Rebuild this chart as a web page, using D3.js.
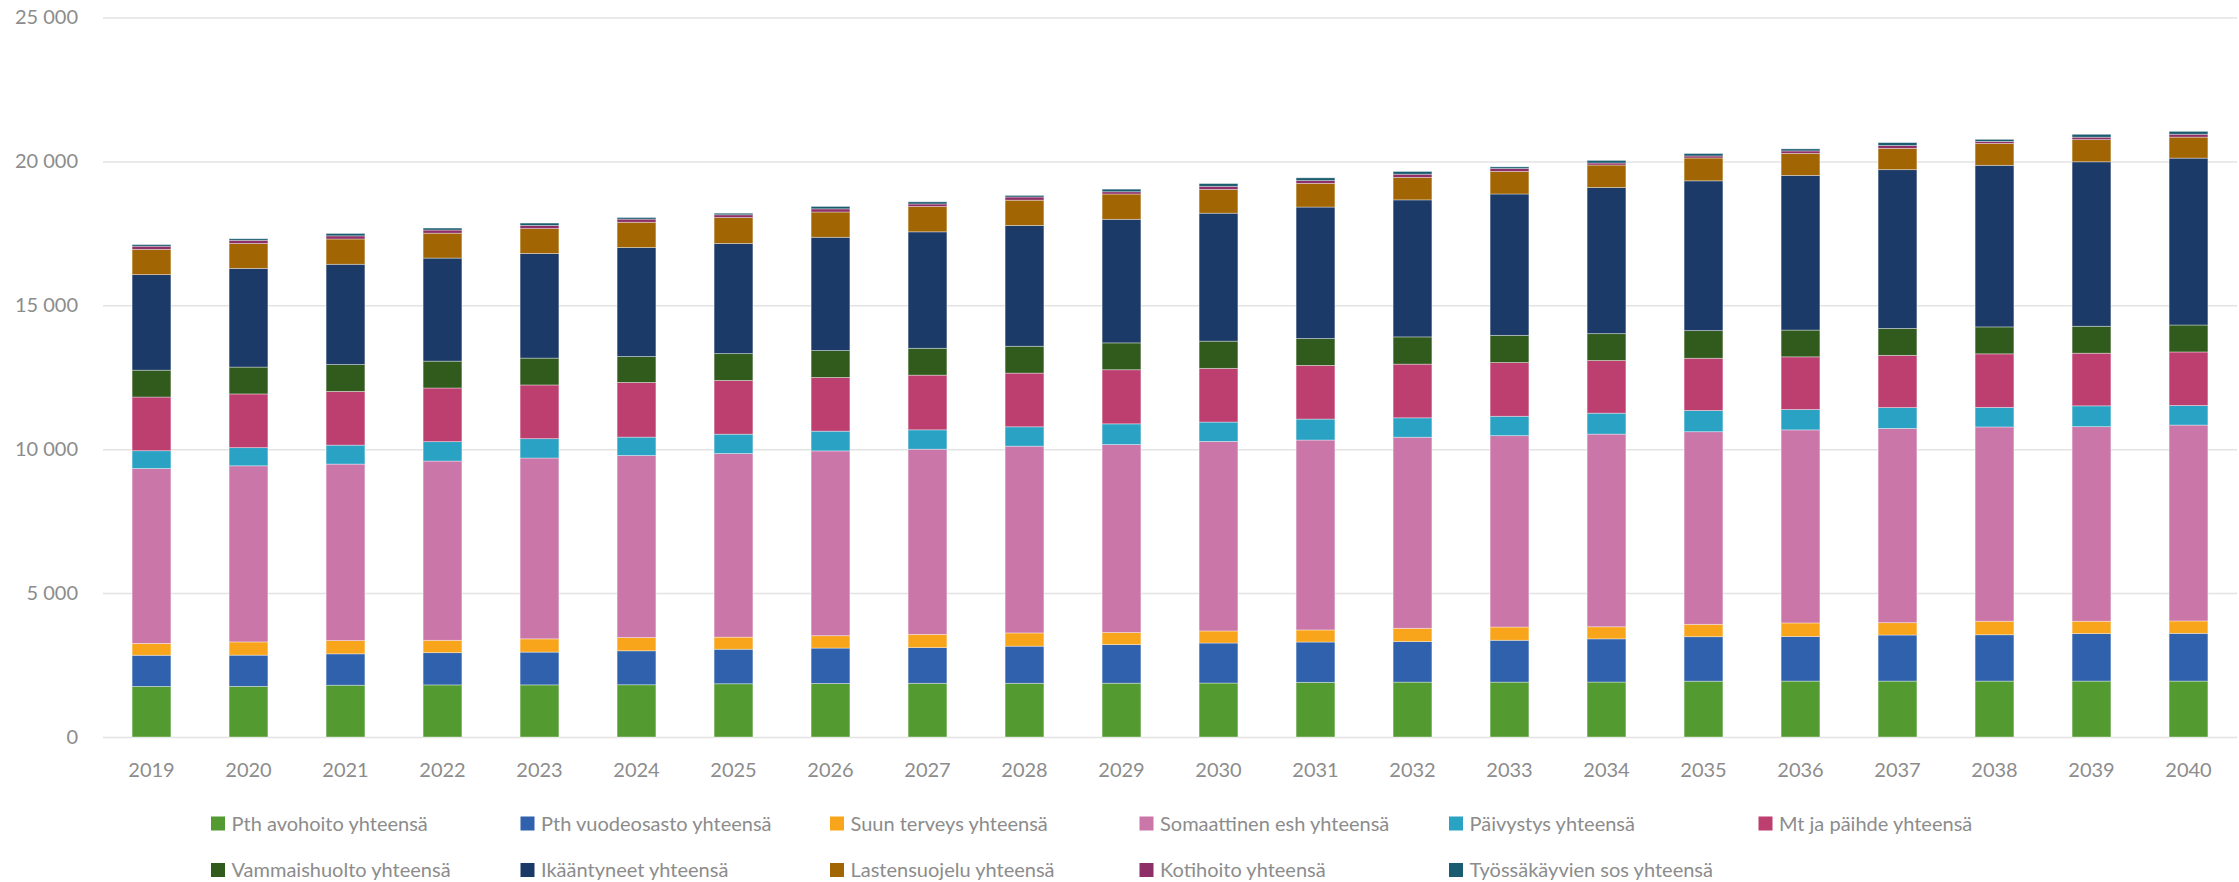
<!DOCTYPE html>
<html>
<head>
<meta charset="utf-8">
<script src="https://cdn.jsdelivr.net/npm/d3@7"></script>
<style>
  body { margin: 0; background: #fff; }
  svg text { font-family: Lato, "Open Sans", sans-serif; fill: #8c8c8c; }
</style>
</head>
<body>
<svg id="chart" width="2239" height="882"></svg>
<script>
const years = [2019, 2020, 2021, 2022, 2023, 2024, 2025, 2026, 2027, 2028, 2029,
               2030, 2031, 2032, 2033, 2034, 2035, 2036, 2037, 2038, 2039, 2040];

const series_names = [
    'Pth avohoito yhteensä', 'Pth vuodeosasto yhteensä', 'Suun terveys yhteensä',
    'Somaattinen esh yhteensä', 'Päivystys yhteensä', 'Mt ja päihde yhteensä',
    'Vammaishuolto yhteensä', 'Ikääntyneet yhteensä', 'Lastensuojelu yhteensä',
    'Kotihoito yhteensä', 'Työssäkäyvien sos yhteensä'
];

const colors = ['#539a30', '#3061ac', '#f9a51b', '#ca76a9', '#29a2c4', '#bd3f70',
                '#315b1c', '#1c3a67', '#a16503', '#8e2f67', '#1b5d70'];

// values
const pth_avohoito = [1756, 1760, 1800, 1810, 1811, 1815, 1850, 1860, 1866, 1866, 1870,
                      1875, 1900, 1907, 1907, 1910, 1940, 1943, 1943, 1943, 1943, 1943];
const pth_vuodeosasto = [1084, 1084, 1090, 1120, 1139, 1180, 1200, 1230, 1240, 1290, 1340,
                         1390, 1400, 1410, 1454, 1500, 1545, 1550, 1600, 1610, 1650, 1659];
const suun_terveys = [412, 460, 460, 430, 460, 460, 420, 430, 460, 460, 420,
                      420, 420, 460, 460, 420, 430, 470, 430, 470, 430, 430];
const somaattinen = [6078, 6119, 6133, 6229, 6284, 6325, 6380, 6421, 6435, 6490, 6531,
                     6586, 6599, 6640, 6650, 6695, 6693, 6708, 6750, 6750, 6760, 6807];
const paivystys = [617, 631, 659, 673, 672, 640, 672, 686, 672, 672, 720,
                   672, 728, 673, 673, 727, 737, 709, 723, 680, 723, 680];
const mt_paihde = [1866, 1866, 1866, 1865, 1866, 1900, 1866, 1866, 1900, 1866, 1880,
                   1866, 1865, 1866, 1866, 1830, 1815, 1829, 1815, 1860, 1830, 1860];
const vammaishuolto = [933, 933, 933, 933, 933, 900, 933, 933, 933, 933, 933,
                       946, 933, 946, 946, 933, 960, 930, 936, 936, 936, 936];
const ikaantyneet = [3320, 3430, 3485, 3581, 3636, 3787, 3828, 3938, 4047, 4198, 4294,
                     4446, 4569, 4761, 4912, 5077, 5205, 5375, 5516, 5615, 5714, 5799];
const lastensuojelu = [878, 864, 878, 865, 864, 878, 900, 878, 878, 878, 878,
                       823, 823, 782, 782, 782, 794, 765, 740, 760, 770, 730];
const kotihoito = [110, 110, 109, 109, 110, 110, 96, 109, 90, 110, 80,
                   110, 96, 110, 100, 70, 70, 85, 100, 71, 85, 100];
const tyossakayvien = [55, 55, 83, 69, 82, 55, 55, 83, 75, 55, 90,
                       96, 96, 96, 60, 90, 85, 71, 100, 71, 100, 100];

const y_ticks = [0, 5000, 10000, 15000, 20000, 25000];

const margin = { left: 103, right: 2, top: 17.5, bottom: 145 };
const width = 2239 - margin.left - margin.right;
const height = 882 - margin.top - margin.bottom;

const all_values = [pth_avohoito, pth_vuodeosasto, suun_terveys, somaattinen, paivystys,
                    mt_paihde, vammaishuolto, ikaantyneet, lastensuojelu, kotihoito, tyossakayvien];

// one row per year, keyed by series name, for d3.stack
const table = years.map((yr, i) => {
    const row = { year: yr };
    series_names.forEach((name, s) => { row[name] = all_values[s][i]; });
    return row;
});

const fi = d3.formatLocale({ decimal: ',', thousands: ' ', grouping: [3], currency: ['', ' €'] });
const fmt = fi.format(',d');

const svg = d3.select('#chart');
const chart = svg.append('g')
    .attr('transform', `translate(${margin.left}, ${margin.top})`);

const xScale = d3.scaleBand()
    .domain(years)
    .range([0, width])
    .paddingInner(0.6)
    .paddingOuter(0.3);

const yScale = d3.scaleLinear()
    .domain([0, 25000])
    .range([height, 0]);

// gridlines + y labels
const yAxis = chart.append('g')
    .call(d3.axisLeft(yScale).tickValues(y_ticks).tickFormat(fmt).tickSize(-width).tickPadding(25));
yAxis.select('.domain').remove();
yAxis.selectAll('line').attr('stroke', '#e3e3e3').attr('stroke-width', 1.5);
yAxis.selectAll('text').attr('font-size', 20).style('fill', '#8c8c8c');

const xAxis = chart.append('g')
    .attr('transform', `translate(0, ${height})`)
    .call(d3.axisBottom(xScale).tickSize(0).tickPadding(26));
xAxis.select('.domain').remove();
xAxis.selectAll('text').attr('font-size', 20).style('fill', '#8c8c8c');

const stacked = d3.stack().keys(series_names)(table);

chart.selectAll('g.layer')
    .data(stacked)
    .join('g')
    .attr('class', 'layer')
    .attr('fill', (d, i) => colors[i])
    .selectAll('rect')
    .data(d => d)
    .join('rect')
    .attr('x', d => xScale(d.data.year))
    .attr('y', d => yScale(d[1]))
    .attr('height', d => yScale(d[0]) - yScale(d[1]))
    .attr('width', xScale.bandwidth())
    .attr('stroke', '#ffffff')
    .attr('stroke-opacity', 0.45)
    .attr('stroke-width', 0.8);

// legend, 6 columns x 2 rows
const legend_x0 = 211;
const legend_step = 309.5;
const legend_rows = [823.5, 870];

const legend = svg.append('g')
    .selectAll('g')
    .data(series_names)
    .join('g')
    .attr('transform', (d, i) => `translate(${legend_x0 + (i % 6) * legend_step}, ${legend_rows[Math.floor(i / 6)]})`);

legend.append('rect')
    .attr('x', 0)
    .attr('y', -7)
    .attr('width', 14)
    .attr('height', 14)
    .attr('fill', (d, i) => colors[i]);

legend.append('text')
    .attr('x', 20.5)
    .attr('dy', '0.35em')
    .attr('font-size', 20)
    .text(d => d);
</script>
</body>
</html>
